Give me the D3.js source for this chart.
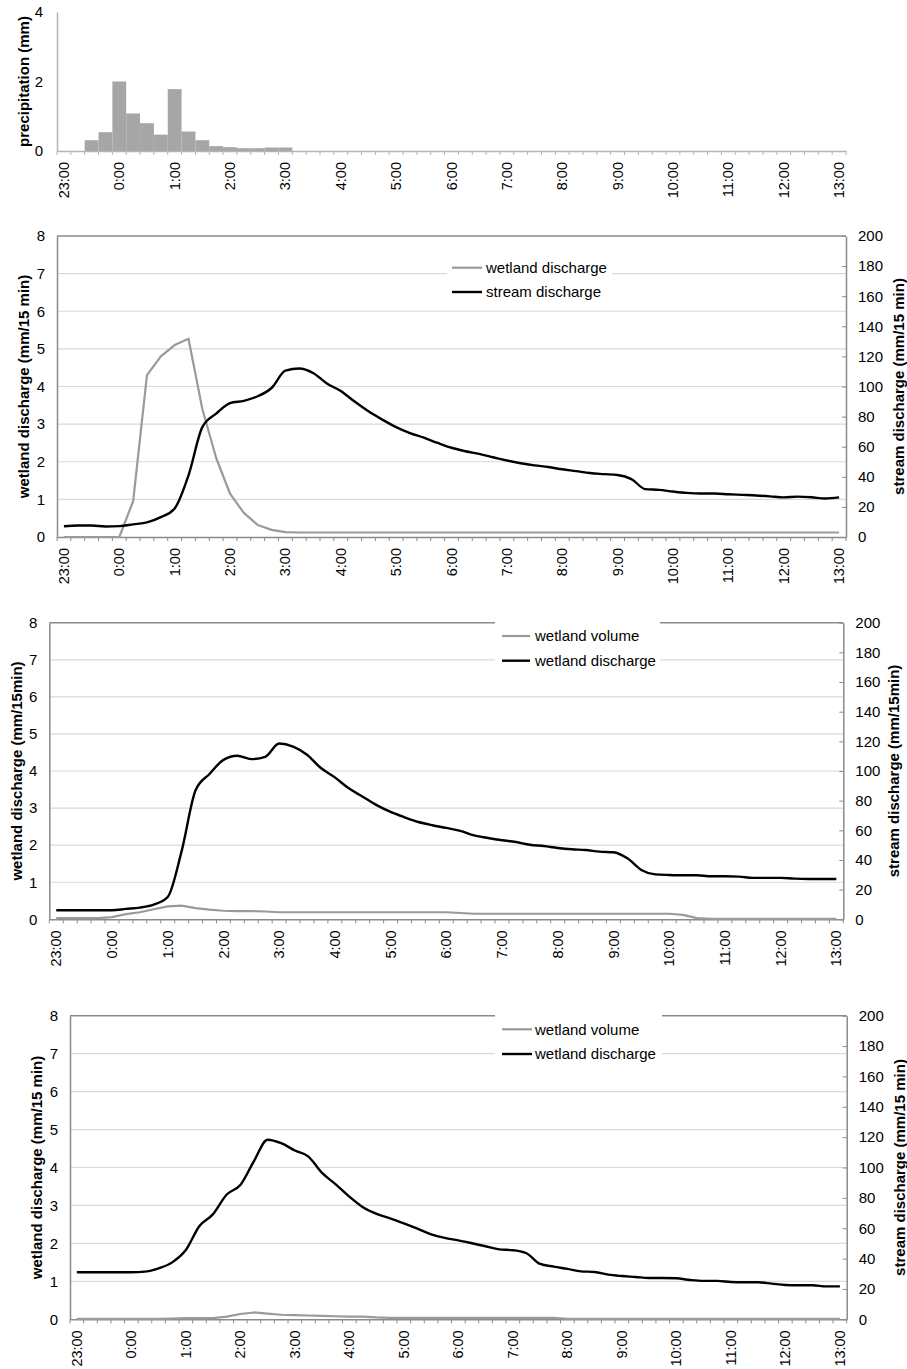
<!DOCTYPE html>
<html>
<head>
<meta charset="utf-8">
<script src="https://cdn.jsdelivr.net/npm/d3@7"></script>
<style>
  body { margin: 0; background: #fff; }
  svg { display: block; }
</style>
</head>
<body>
<svg id="chart" width="907" height="1369"></svg>
<script>
// ---- time axis: 15-minute steps, 23:00 through 13:00 ----
const times = [];
for (let m = 23 * 60; m <= 37 * 60; m += 15) {
  times.push((Math.floor(m / 60) % 24) + ":" + String(m % 60).padStart(2, "0"));
}
const hourLabels = ["23:00", "0:00", "1:00", "2:00", "3:00", "4:00", "5:00", "6:00",
                    "7:00", "8:00", "9:00", "10:00", "11:00", "12:00", "13:00"];

// ---- precipitation (mm per 15 min) ----
const precipitation = [0, 0, 0.31, 0.54, 2.0, 1.08, 0.80, 0.47, 1.78, 0.56, 0.31, 0.14, 0.11, 0.08, 0.08, 0.10, 0.10,
  0, 0, 0, 0, 0, 0, 0, 0, 0, 0, 0, 0, 0, 0, 0, 0, 0, 0, 0, 0, 0, 0, 0, 0,
  0, 0, 0, 0, 0, 0, 0, 0, 0, 0, 0, 0, 0, 0, 0, 0];

// ---- event 1: wetland discharge (mm/15 min) and stream discharge ----
const wetlandDischarge1 = [0, 0, 0, 0, 0, 0.95, 4.3, 4.8, 5.1, 5.27, 3.4, 2.1, 1.15, 0.64, 0.32, 0.19, 0.13,
  0.12, 0.12, 0.12, 0.12, 0.12, 0.12, 0.12, 0.12, 0.12, 0.12, 0.12, 0.12, 0.12, 0.12, 0.12, 0.12, 0.12, 0.12, 0.12, 0.12,
  0.12, 0.12, 0.12, 0.12, 0.12, 0.12, 0.12, 0.12, 0.12, 0.12, 0.12, 0.12, 0.12, 0.12, 0.12, 0.12, 0.12, 0.12, 0.12, 0.12];
const streamDischarge1 = [7.1, 7.6, 7.6, 7.0, 7.2, 8.4, 9.7, 13.2, 19, 41,
  73, 82, 89, 90.5, 93.5, 99, 110.5, 112, 109, 102,
  97, 90, 83.5, 78, 73, 69, 66, 62.5, 59.3, 57,
  55.2, 53, 50.8, 49, 47.6, 46.5, 45, 43.8, 42.5, 41.8,
  41.2, 38.5, 31.8, 31.3, 30.2, 29.3, 28.9, 28.9, 28.4, 28,
  27.6, 27, 26.3, 26.8, 26.4, 25.6, 26.3];

// ---- event 2: wetland volume and wetland discharge ----
const wetlandVolume2 = [0.03, 0.03, 0.03, 0.03, 0.06, 0.14, 0.19, 0.27, 0.35, 0.37, 0.30, 0.26, 0.23, 0.22, 0.22, 0.21,
  0.19, 0.19, 0.19, 0.19, 0.19, 0.19, 0.19, 0.19, 0.19, 0.19, 0.19, 0.19, 0.19,
  0.17, 0.15, 0.15, 0.15, 0.15, 0.15, 0.15, 0.15, 0.15, 0.15, 0.15, 0.15, 0.15, 0.15, 0.15, 0.15,
  0.12, 0.03, 0.01, 0.01, 0.01, 0.01, 0.01, 0.01, 0.01, 0.01, 0.01, 0.01];
const wetlandDischarge2 = [6.1, 6.1, 6.1, 6.1, 6.1, 7.0, 7.9, 9.9, 15, 46,
  87, 98, 107.5, 110.3, 108, 109.5, 118.5, 116.5, 111, 102,
  95.7, 88.3, 82.7, 77, 72.4, 68.8, 65.6, 63.4, 61.6, 59.6,
  56.6, 54.8, 53.3, 52.1, 50.3, 49.4, 48.1, 47.2, 46.7, 45.6,
  45.2, 41.1, 33.3, 30.3, 29.9, 29.7, 29.7, 29, 29, 28.8,
  27.9, 27.9, 27.9, 27.4, 27.2, 27.2, 27.2];

// ---- event 3: wetland volume and wetland discharge ----
const wetlandVolume3 = [0.01, 0.01, 0.01, 0.01, 0.01, 0.01, 0.01, 0.02, 0.03, 0.03, 0.03, 0.07, 0.14, 0.18, 0.15, 0.12,
  0.11, 0.10, 0.09, 0.08, 0.07, 0.07, 0.05,
  0.04, 0.04, 0.04, 0.04, 0.04, 0.04, 0.04, 0.04, 0.04, 0.04, 0.04, 0.04, 0.04,
  0.01, 0.01, 0.01, 0.01, 0.01, 0.01, 0.01, 0.01, 0.01, 0.01, 0.01, 0.01, 0.01, 0.01, 0.01, 0.01, 0.01, 0.01, 0.01, 0.01, 0.01];
const wetlandDischarge3 = [31, 31, 31, 31, 31, 31.4, 33.6, 37.5, 45.6, 61.5,
  69.3, 82.2, 88.4, 104.2, 118.3, 116, 111.2, 107.2, 96.4, 88.9,
  80.8, 73.8, 69.4, 66.5, 63.2, 59.7, 56, 53.6, 52, 50.1,
  48.1, 46.1, 45.5, 43.5, 36.5, 34.7, 33.2, 31.6, 31.2, 29.4,
  28.5, 27.9, 27.2, 27.2, 27, 25.9, 25.3, 25.3, 24.6, 24.4,
  24.4, 23.5, 22.6, 22.4, 22.4, 21.7, 21.7];

const leftTicks = [0, 1, 2, 3, 4, 5, 6, 7, 8];
const rightTicks = [0, 20, 40, 60, 80, 100, 120, 140, 160, 180, 200];
const precipTicks = [0, 2, 4];

// ---- drawing ----
const FONT = "'Liberation Sans', Arial, Helvetica, sans-serif";
const AXIS = "#8a8a8a";
const GRID = "#d9d9d9";
const GRAY = "#9a9a9a";
const svg = d3.select("#chart");
const intFmt = d3.format("d");

function styleText(sel, size, weight) {
  sel.attr("font-family", FONT).attr("font-size", size).attr("font-weight", weight || "normal").attr("fill", "#000");
}

function drawPanel(p) {
  const g = svg.append("g");
  const x = d3.scaleBand().domain(times).range([p.x0, p.x1]).padding(0);
  const yL = d3.scaleLinear().domain([0, p.leftTicks[p.leftTicks.length - 1]]).range([p.yb, p.yt]);
  const yR = p.right ? d3.scaleLinear().domain([0, 200]).range([p.yb, p.yt]) : null;
  const cx = t => x(t) + x.bandwidth() / 2;
  const top = p.leftTicks[p.leftTicks.length - 1];

  // horizontal gridlines (the top one doubles as the plot frame)
  if (p.grid) {
    g.append("g").selectAll("line").data(p.leftTicks.slice(1)).join("line")
      .attr("x1", p.x0).attr("x2", p.x1)
      .attr("y1", d => yL(d)).attr("y2", d => yL(d))
      .attr("stroke", d => d === top ? AXIS : GRID)
      .attr("stroke-width", d => d === top ? 1.4 : 1.2);
  }

  // bars
  if (p.bars) {
    g.append("g").selectAll("rect").data(p.bars).join("rect")
      .attr("x", (d, i) => x(times[i])).attr("width", x.bandwidth())
      .attr("y", d => yL(d)).attr("height", d => p.yb - yL(d))
      .attr("fill", "#a6a6a6");
  }

  // quarter-hour tick marks along the time axis
  g.append("g").selectAll("line").data(d3.range(times.length + 1)).join("line")
    .attr("x1", i => p.x0 + i * x.step()).attr("x2", i => p.x0 + i * x.step())
    .attr("y1", p.yb).attr("y2", p.yb + 4)
    .attr("stroke", p.axisColor || AXIS).attr("stroke-width", 1);

  // bottom axis with rotated hour labels
  g.append("g").attr("transform", `translate(0,${p.yb})`)
    .call(d3.axisBottom(x).tickValues(hourLabels).tickSize(0).tickSizeOuter(0))
    .call(a => {
      a.select(".domain").attr("stroke", p.axisColor || AXIS).attr("stroke-width", 1.5);
      a.selectAll("text").attr("transform", "rotate(-90)").attr("x", -11).attr("y", 0)
        .attr("dy", "0.35em").attr("text-anchor", "end").call(styleText, 14.5);
    });

  // left value axis
  g.append("g").attr("transform", `translate(${p.x0},0)`)
    .call(d3.axisLeft(yL).tickValues(p.leftTicks).tickFormat(intFmt)
      .tickSize(0).tickSizeOuter(0).tickPadding(p.leftPad || 12))
    .call(a => {
      a.select(".domain").attr("stroke", p.axisColor || AXIS).attr("stroke-width", 1.5);
      a.selectAll("text").call(styleText, 15);
    });

  // right value axis
  if (p.right) {
    g.append("g").attr("transform", `translate(${p.x1},0)`)
      .call(d3.axisRight(yR).tickValues(rightTicks).tickFormat(intFmt)
        .tickSizeInner(-4).tickSizeOuter(0).tickPadding(12))
      .call(a => {
        a.select(".domain").attr("stroke", AXIS).attr("stroke-width", 1.5);
        a.selectAll(".tick line").attr("stroke", AXIS);
        a.selectAll("text").call(styleText, 15);
      });
  }

  // series lines
  (p.series || []).forEach(s => {
    const y = s.axis === "right" ? yR : yL;
    const line = d3.line()
      .x((d, i) => cx(times[i]))
      .y(d => y(d))
      .curve(s.smooth ? d3.curveMonotoneX : d3.curveLinear);
    g.append("path").datum(s.values)
      .attr("d", line)
      .attr("fill", "none")
      .attr("stroke", s.color)
      .attr("stroke-width", s.width)
      .attr("stroke-linejoin", "round");
  });

  // legend
  if (p.legend) {
    const L = p.legend;
    g.append("rect").attr("x", L.x).attr("y", L.y).attr("width", L.w).attr("height", L.h).attr("fill", "#fff");
    p.series.forEach((s, k) => {
      const yy = L.rowY[k];
      g.append("line").attr("x1", L.lx0).attr("x2", L.lx1).attr("y1", yy).attr("y2", yy)
        .attr("stroke", s.color).attr("stroke-width", s.width);
      g.append("text").attr("x", L.tx).attr("y", yy).attr("dy", "0.35em").text(s.name).call(styleText, 15);
    });
  }

  // axis titles
  const midY = (p.yt + p.yb) / 2;
  g.append("text").attr("transform", `translate(${p.leftTitleX},${midY}) rotate(-90)`)
    .attr("text-anchor", "middle").attr("dy", "0.35em").text(p.leftTitle).call(styleText, 15, "bold");
  if (p.right) {
    g.append("text").attr("transform", `translate(${p.rightTitleX},${midY}) rotate(-90)`)
      .attr("text-anchor", "middle").attr("dy", "0.35em").text(p.rightTitle).call(styleText, 15, "bold");
  }
}

// precipitation hyetograph
drawPanel({
  x0: 57, x1: 846, yt: 12, yb: 151,
  leftTicks: precipTicks, leftPad: 14, grid: false, right: false,
  axisColor: "#b4b4b4",
  bars: precipitation,
  leftTitle: "precipitation (mm)", leftTitleX: 24
});

// event 1
drawPanel({
  x0: 57, x1: 846, yt: 236, yb: 537,
  leftTicks: leftTicks, grid: true, right: true,
  series: [
    { name: "wetland discharge", values: wetlandDischarge1, axis: "left", color: GRAY, width: 2.2, smooth: false },
    { name: "stream discharge", values: streamDischarge1, axis: "right", color: "#000", width: 2.4, smooth: true }
  ],
  legend: { x: 447, y: 252, w: 165, h: 52, rowY: [267.7, 292], lx0: 452, lx1: 482, tx: 486 },
  leftTitle: "wetland discharge (mm/15 min)", leftTitleX: 24,
  rightTitle: "stream discharge (mm/15 min)", rightTitleX: 899
});

// event 2
drawPanel({
  x0: 49.3, x1: 843.3, yt: 622.7, yb: 919.3,
  leftTicks: leftTicks, grid: true, right: true,
  series: [
    { name: "wetland volume", values: wetlandVolume2, axis: "left", color: GRAY, width: 2.2, smooth: false },
    { name: "wetland discharge", values: wetlandDischarge2, axis: "right", color: "#000", width: 2.4, smooth: true }
  ],
  legend: { x: 495, y: 614, w: 165, h: 58, rowY: [636, 660.7], lx0: 502, lx1: 530, tx: 535 },
  leftTitle: "wetland discharge (mm/15min)", leftTitleX: 17,
  rightTitle: "stream discharge (mm/15min)", rightTitleX: 894
});

// event 3
drawPanel({
  x0: 70, x1: 846.7, yt: 1015.7, yb: 1319.3,
  leftTicks: leftTicks, grid: true, right: true,
  series: [
    { name: "wetland volume", values: wetlandVolume3, axis: "left", color: GRAY, width: 2.2, smooth: false },
    { name: "wetland discharge", values: wetlandDischarge3, axis: "right", color: "#000", width: 2.4, smooth: true }
  ],
  legend: { x: 495, y: 1008, w: 167, h: 58, rowY: [1029.3, 1054], lx0: 502, lx1: 532, tx: 535 },
  leftTitle: "wetland discharge (mm/15 min)", leftTitleX: 37,
  rightTitle: "stream discharge (mm/15 min)", rightTitleX: 900
});
</script>
</body>
</html>
